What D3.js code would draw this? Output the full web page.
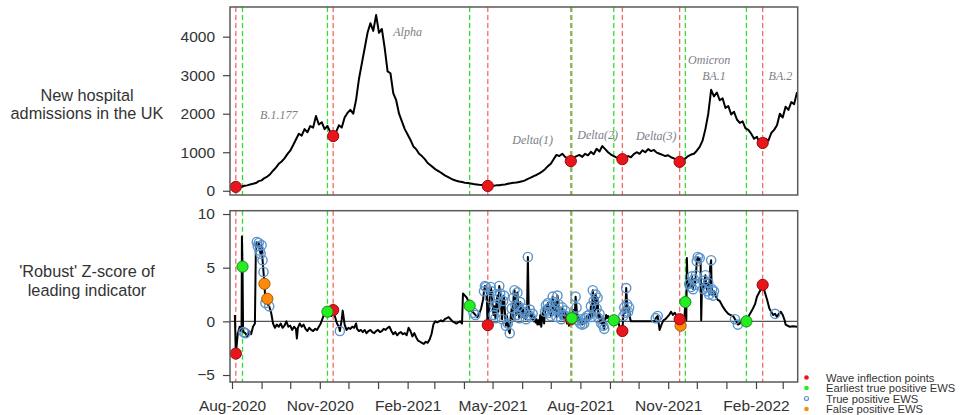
<!DOCTYPE html>
<html>
<head>
<meta charset="utf-8">
<script src="https://cdn.jsdelivr.net/npm/d3@7"></script>
<style>
  body { margin: 0; background: #fff; }
  svg { display: block; }
</style>
</head>
<body>
<svg id="chart" width="961" height="415"></svg>
<script>
// Day 0 of every series is 1 August 2020 (UTC); days are counted from it.
const baseDay = Date.UTC(2020, 7, 1);

// New hospital admissions in the UK, one value every 3 days from day 4.
const admStartDay = 4;
const admStepDays = 3;
const admissions = [
  100, 112, 105, 130, 140, 165, 180, 200, 250, 270,
  330, 370, 430, 520, 600, 700, 760, 840, 950, 1040,
  1180, 1330, 1480, 1430, 1600, 1520, 1680, 1640, 1940, 1720,
  1780, 1600, 1680, 1520, 1420, 1520, 1700, 1640, 1900, 2020,
  2100, 2000, 2360, 2900, 3300, 3700, 4100, 4350, 4150, 4560,
  4100, 4200, 3700, 3100, 3050, 2530, 2350, 2000, 1800, 1600,
  1460, 1320, 1150, 1080, 960, 900, 820, 720, 660, 600,
  540, 500, 450, 400, 360, 320, 285, 260, 240, 225,
  210, 200, 190, 175, 165, 155, 150, 140, 125, 120,
  130, 140, 145, 155, 165, 180, 195, 205, 215, 230,
  245, 270, 310, 340, 380, 410, 450, 500, 560, 640,
  700, 820, 930, 900, 960, 880, 830, 770, 860, 900,
  930, 880, 960, 920, 1010, 950, 1090, 1020, 1160, 1080,
  1000, 940, 900, 860, 840, 820, 860, 900, 870, 950,
  1000, 960, 1050, 1000, 1080, 1030, 1060, 990, 960, 930,
  900, 920, 870, 840, 800, 750, 800, 840, 900, 940,
  960, 1040, 1140, 1300, 1600, 2000, 2620, 2450, 2550, 2350,
  2400, 2150, 2200, 1980, 2050, 1850, 1760, 1800, 1620, 1580,
  1480, 1350, 1400, 1230, 1240, 1350, 1300, 1500, 1580, 1700,
  2000, 1900, 2180, 2100, 2300, 2250, 2560
];

// 'Robust' Z-score of the leading indicator: [day, value].
const zScore = [
  [3,0.6],[4,-3.0],[6,-1.2],[8,-0.5],[9,-0.9],[10,-0.8],[10.4,7.9],[11,5.1],[11.6,-0.7],[12,-1.0],[14,-1.1],[16,-1.4],[18,-0.9],[20,-1.2],[22,-0.5],[24,-0.2],
  [25,6.8],[26,7.4],[27,7.0],[28,7.3],[29,6.6],[30,6.3],[31,7.1],[32,5.7],[33,4.6],[34,3.5],[35,1.7],[36,2.4],[37,2.1],[38,1.5],[39,1.4],
  [41,0.8],[43,-0.2],[45,-0.6],[47,-0.3],[49,-0.5],[51,-0.2],[53,-0.6],[55,-0.4],[57,0.0],[59,-0.5],[61,-0.4],[63,-0.8],[65,-0.5],[67,-0.7],[68,-1.6],[69,-0.6],[71,-0.2],[73,-0.5],[75,-0.3],[77,-0.7],[79,-0.9],[81,-0.6],[83,-0.8],[85,-0.9],[87,-0.7],[89,-0.8],[91,-0.5],[93,-0.2],[95,0.3],[97,0.8],[100,0.9],[102,0.6],[104,0.5],[106,1.05],[108,0.4],[110,-0.2],[112,-0.5],[113,-0.9],[115,0.2],[116,1.0],[118,-0.3],
  [120,-0.8],[122,-0.6],[124,-0.7],[126,-0.5],[128,-0.6],[130,-0.2],[131,-0.7],[133,-0.9],[135,-0.8],[137,-1.0],[139,-0.8],[141,-1.1],[143,-0.9],[145,-0.8],[147,-1.0],[149,-1.1],[151,-0.9],[153,-0.8],[155,-1.0],[157,-0.9],[159,-0.7],[161,-0.8],[163,-0.6],[165,-0.5],[167,-0.9],[169,-1.2],[171,-1.0],[173,-1.3],[175,-1.1],[177,-1.0],[179,-1.2],[181,-1.1],[183,-1.3],[185,-0.6],[187,-0.9],[189,-1.4],[191,-1.1],[193,-1.5],[195,-1.8],[197,-1.9],[199,-2.0],[201,-2.1],[203,-1.9],[205,-2.0],[207,-1.7],[209,-1.2],[211,-0.3],[213,0.0],[215,-0.1],[217,0.0],[219,0.1],[221,0.0],[223,0.2],[225,0.3],[227,0.4],[229,0.2],[231,0.0],[233,-0.1],[235,-0.2],[237,-0.1],[239,0.0],[241,-0.2],
  [242,2.6],[244,2.4],[246,2.2],[248,1.8],[249,1.45],[251,1.0],[253,0.8],[255,0.6],[257,0.4],[259,0.7],[261,1.2],[263,2.0],[264,2.8],[265,3.3],[266,3.2],[267,2.8],[267.6,-0.3],[268,-0.35],
  [269,0.8],[270,2.2],[271,3.2],[272,2.8],[273,1.5],[274,0.6],[275,1.4],[276,0.3],[277,1.6],[278,2.4],[279,0.9],[280,3.3],[281,2.6],[282,1.2],[283,0.2],[284,1.9],[285,2.4],[286,0.7],[287,-0.4],[288,0.5],[289,-0.2],[290,-0.9],[291,-1.1],[292,0.4],[293,1.2],[294,0.2],[295,2.2],[296,2.9],[297,1.5],[298,0.6],[299,2.7],[300,1.4],[301,0.3],[302,1.8],[303,1.0],[304,0.4],[305,1.2],[306,0.3],[307,0.8],[308,0.2],[309,0.5],[310,6.0],[311,0.6],[312,1.1],[313,0.4],[314,0.2],[315,0.7],[316,0.0],[317,0.4],[318,-0.1],[319,0.2],[320,-0.3],[321,0.1],[322,-0.3],[323,0.6],[324,-0.5],[325,0.3],[326,1.2],[327,-0.2],[328,0.9],[329,1.5],[330,1.1],[331,1.7],[332,0.8],[333,1.3],[334,0.5],[335,1.5],[336,2.3],[337,1.0],[338,1.8],[339,1.2],[340,0.4],[341,2.4],[342,1.6],[343,0.6],[344,0.9],[345,0.2],[346,1.3],[347,0.6],[348,0.3],[349,1.0],[350,0.5],[351,-0.2],[352,0.4],[353,-0.4],[354,0.6],[355,0.2],[356,0.3],[357,0.7],[358,1.05],[359,0.4],[360,2.3],[361,1.3],[362,0.1],[363,0.4],[364,0.1],[365,-0.2],[366,0.2],[367,-0.3],[368,0.1],[369,-0.2],[370,0.3],[371,-0.1],[372,0.5],[373,0.2],[374,0.6],[375,0.3],[376,1.4],[377,0.4],[378,2.9],[379,1.9],[380,0.7],[381,2.5],[382,1.2],[383,2.2],[384,0.3],[385,0.7],[386,0.0],[387,-0.2],[388,0.4],[389,-0.4],[390,-0.7],[391,0.2],[392,0.6],[393,0.3],[394,0.5],[396,0.2],[398,0.4],[400,0.1],[402,-0.3],[404,0.2],[406,-0.5],[408,-0.6],[409,-0.9],
  [410,0.5],[411,1.3],[412,0.8],[413,3.1],[414,1.6],[415,0.9],[416,1.3],[417,0.3],[418,0.0],[443,0.0],[444,0.3],[446,0.5],[448,-0.8],[450,-0.3],[452,0.1],[454,0.2],[456,0.4],[458,0.6],[460,0.9],[462,0.6],[464,0.8],[466,0.5],[468,0.4],[469,0.2],[470,-0.4],[471,-0.6],[472,0.2],[474,0.3],[475,1.8],[476,0.1],[476.6,5.9],[477.5,2.9],[479,3.5],[481,3.2],[482,4.2],[483,3.0],[484,3.9],[485,3.4],[486,4.3],[487,5.6],[488,6.0],[489,5.5],[490,5.9],[491,5.4],[491.6,0.1],[492.5,3.5],[494,3.0],[495,3.8],[496,4.3],[497,3.2],[498,2.8],[499,3.6],[500,2.5],[501,5.1],[502,5.7],[502.6,2.5],[503,3.0],[504,2.4],[505,2.8],[507,2.3],[509,2.0],[511,1.9],[514,1.4],[517,1.0],[520,0.7],[522,0.6],[525,0.5],[527,0.2],[530,-0.3],[532,-0.2],[534,0.1],[536,-0.2],[539,0.0],
  [542,0.6],[545,1.05],[548,1.6],[550,2.3],[553,2.8],[556,3.4],[559,2.5],[561,1.9],[563,1.2],[565,0.9],[567,0.6],[569,0.7],[571,0.4],[573,0.7],[575,0.9],[577,0.6],[579,0.1],[580,-0.3],[582,-0.4],[584,-0.5],[588,-0.45],[592,-0.5]
];

// Event days.
const inflectionDays = [4, 106, 268, 355, 409, 469, 556];
const earliestEwsDays = [11, 100, 249, 356, 400, 475, 539];
const falsePositiveDays = [34, 37, 470];
const truePositiveDays = [
  12, 14, 26, 27, 28, 29, 30, 31, 32, 33, 35, 39, 113, 253, 255, 264, 265, 266,
  270, 271, 272, 274, 275, 276, 277, 278, 280, 281, 283, 284, 285, 287, 289, 291, 292, 293,
  295, 296, 297, 298, 299, 300, 301, 302, 303, 305, 307, 308, 310, 311, 312, 313, 315,
  328, 329, 330, 331, 332, 333, 334, 336, 337, 338, 339, 340, 341, 342, 344, 345, 346, 347, 349, 350,
  359, 360, 361, 362, 365, 366, 367, 369, 370, 372, 374, 376, 377, 378, 379, 381, 382, 383, 384, 385,
  387, 389, 390, 410, 411, 412, 413, 414, 415, 416, 444, 446,
  479, 481, 482, 483, 484, 485, 486, 487, 488, 490, 494, 495, 496, 497, 498, 499, 500, 502, 503, 504, 505,
  527, 530, 569
];

// Variant names with their anchor (day, admissions level).
const variantNames = ["B.1.177", "Alpha", "Delta(1)", "Delta(2)", "Delta(3)", "Omicron", "BA.1", "BA.2"];
const variantDays = [49, 184, 315, 383, 444.5, 500, 505, 574.6];
const variantLevels = [1862, 4018, 1213, 1343, 1317, 3290, 2875, 2875];

const admTicks = [0, 1000, 2000, 3000, 4000];
const zTicks = [-5, 0, 5, 10];
const legendLabels = ["Wave inflection points", "Earliest true positive EWS", "True positive EWS", "False positive EWS"];

// ---------------------------------------------------------------------------
const dayToDate = d => new Date(baseDay + d * 864e5);
const admSeries = admissions.map((v, i) => [admStartDay + i * admStepDays, v]);

function valueAt(series, day) {
  const i = d3.bisector(p => p[0]).left(series, day);
  if (i < series.length && series[i][0] === day) return series[i][1];
  const a = series[Math.max(0, i - 1)], b = series[Math.min(series.length - 1, i)];
  if (a[0] === b[0]) return a[1];
  return a[1] + (b[1] - a[1]) * (day - a[0]) / (b[0] - a[0]);
}

const plotL = 230, plotR = 797.7;
const topT = 7, topB = 195, botT = 210.7, botB = 382;

const x = d3.scaleUtc().domain([dayToDate(-2.1), dayToDate(592.7)]).range([plotL, plotR]);
const yTop = d3.scaleLinear().domain([-110, 4770]).range([topB, topT]);
const yBot = d3.scaleLinear().domain([-5.65, 10.31]).range([botB, botT]);

const svg = d3.select("#chart");
const sans = "'Liberation Sans', Arial, sans-serif";
const textColor = "#333";

const RED_LINE = "#f06a6a", GREEN_LINE = "#2ee02e";
const RED = "#e8161c", GREEN = "#22ee22", ORANGE = "#ff8a0a", BLUE = "#5a94cc";

function vlines(g, days, color, y0, y1) {
  g.selectAll(null).data(days).join("line")
    .attr("x1", d => x(dayToDate(d))).attr("x2", d => x(dayToDate(d)))
    .attr("y1", y0).attr("y2", y1)
    .attr("stroke", color).attr("stroke-width", 1.3)
    .attr("stroke-dasharray", "5,3");
}

// ---- top panel: admissions -------------------------------------------------
const gTop = svg.append("g");
vlines(gTop, inflectionDays, RED_LINE, topT, topB);
vlines(gTop, earliestEwsDays, GREEN_LINE, topT, topB);

gTop.append("path")
  .datum(admSeries)
  .attr("fill", "none").attr("stroke", "#000").attr("stroke-width", 2)
  .attr("stroke-linejoin", "round")
  .attr("d", d3.line().x(d => x(dayToDate(d[0]))).y(d => yTop(d[1])));

gTop.selectAll(null).data(inflectionDays).join("circle")
  .attr("cx", d => x(dayToDate(d))).attr("cy", d => yTop(valueAt(admSeries, d)))
  .attr("r", 5.6).attr("fill", RED).attr("stroke", "#9a0a0a").attr("stroke-width", 1);

gTop.selectAll(null).data(variantNames).join("text")
  .attr("x", (d, i) => x(dayToDate(variantDays[i])))
  .attr("y", (d, i) => yTop(variantLevels[i]))
  .attr("text-anchor", "middle")
  .attr("font-family", "'Liberation Serif', 'Times New Roman', serif")
  .attr("font-style", "italic").attr("font-size", 12)
  .attr("fill", "#7d7d88")
  .text(d => d);

gTop.append("rect").attr("x", plotL).attr("y", topT)
  .attr("width", plotR - plotL).attr("height", topB - topT)
  .attr("fill", "none").attr("stroke", "#5a5a5a").attr("stroke-width", 1.5);

const axTop = gTop.append("g").attr("transform", `translate(${plotL},0)`)
  .call(d3.axisLeft(yTop).tickValues(admTicks).tickFormat(d3.format("d")).tickSize(7).tickPadding(8));

// ---- bottom panel: Z-score --------------------------------------------------
const gBot = svg.append("g");
vlines(gBot, inflectionDays, RED_LINE, botT, botB);
vlines(gBot, earliestEwsDays, GREEN_LINE, botT, botB);

gBot.append("line")
  .attr("x1", plotL).attr("x2", plotR).attr("y1", yBot(0)).attr("y2", yBot(0))
  .attr("stroke", "#555").attr("stroke-width", 1.2);

gBot.append("path")
  .datum(zScore)
  .attr("fill", "none").attr("stroke", "#000").attr("stroke-width", 2)
  .attr("stroke-linejoin", "round")
  .attr("d", d3.line().x(d => x(dayToDate(d[0]))).y(d => yBot(d[1])));

gBot.selectAll(null).data(truePositiveDays).join("circle")
  .attr("cx", d => x(dayToDate(d))).attr("cy", d => yBot(valueAt(zScore, d)))
  .attr("r", 4.6).attr("fill", "none").attr("stroke", BLUE).attr("stroke-width", 1.4);

const dot = (days, fill, stroke) =>
  gBot.selectAll(null).data(days).join("circle")
    .attr("cx", d => x(dayToDate(d))).attr("cy", d => yBot(valueAt(zScore, d)))
    .attr("r", 5.6).attr("fill", fill).attr("stroke", stroke).attr("stroke-width", 1);

dot(falsePositiveDays, ORANGE, "#a85a00");
dot(inflectionDays, RED, "#9a0a0a");
dot(earliestEwsDays, GREEN, "#1a8a1a");

gBot.append("rect").attr("x", plotL).attr("y", botT)
  .attr("width", plotR - plotL).attr("height", botB - botT)
  .attr("fill", "none").attr("stroke", "#5a5a5a").attr("stroke-width", 1.5);

const axBot = gBot.append("g").attr("transform", `translate(${plotL},0)`)
  .call(d3.axisLeft(yBot).tickValues(zTicks).tickFormat(d3.format("d")).tickSize(7).tickPadding(8));

const months = d3.utcMonth.range(new Date(Date.UTC(2020, 7, 1)), new Date(Date.UTC(2022, 2, 2)));
const axX = gBot.append("g").attr("transform", `translate(0,${botB})`)
  .call(d3.axisBottom(x).tickValues(months).tickSize(7).tickPadding(11)
    .tickFormat(d => (d.getUTCMonth() % 3 === 1) ? d3.utcFormat("%b-%Y")(d) : ""));

[axTop, axBot, axX].forEach(a => {
  a.select(".domain").remove();
  a.selectAll(".tick line").attr("stroke", "#444").attr("stroke-width", 1.2);
  a.selectAll(".tick text").attr("font-family", sans).attr("font-size", 15.5).attr("fill", textColor);
});

// ---- panel titles ------------------------------------------------------------
const titles = [
  { lines: ["New hospital", "admissions in the UK"], y: 100.5 },
  { lines: ["'Robust' Z-score of", "leading indicator"], y: 277 }
];
titles.forEach(t => {
  svg.append("text")
    .attr("font-family", sans).attr("font-size", 16.3).attr("fill", textColor)
    .attr("text-anchor", "middle")
    .selectAll("tspan").data(t.lines).join("tspan")
    .attr("x", 87).attr("y", (d, i) => t.y + i * 18.5)
    .text(d => d);
});

// ---- legend -------------------------------------------------------------------
const legend = svg.append("g");
const legendBaselines = [381.5, 392, 402.5, 413];
legendLabels.forEach((lab, i) => {
  const cy = legendBaselines[i] - 4;
  if (i === 2) {
    legend.append("circle").attr("cx", 806.5).attr("cy", cy).attr("r", 2)
      .attr("fill", "none").attr("stroke", BLUE).attr("stroke-width", 1.2);
  } else {
    legend.append("circle").attr("cx", 806.5).attr("cy", cy).attr("r", 2.3)
      .attr("fill", [RED, GREEN, null, ORANGE][i]);
  }
  legend.append("text").attr("x", 826).attr("y", legendBaselines[i])
    .attr("font-family", sans).attr("font-size", 11.2).attr("fill", textColor)
    .text(lab);
});
</script>
</body>
</html>
